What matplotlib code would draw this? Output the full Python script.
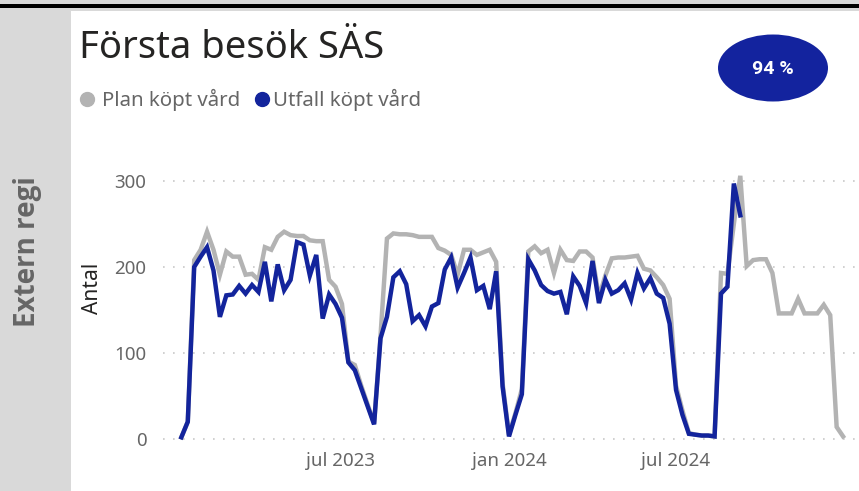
import matplotlib
matplotlib.use('Agg')
import matplotlib.pyplot as plt
import pandas as pd
from matplotlib.lines import Line2D
from matplotlib.patches import Ellipse, Rectangle

# weekly values, first week 2023-01-09
start_week = '2023-01-09'
plan = [2, 20, 208, 220, 241, 220, 191, 218, 212, 212,
        191, 192, 185, 223, 220, 235, 241, 237, 236, 236,
        231, 230, 230, 185, 177, 157, 90, 86, 62, 40,
        18, 120, 233, 239, 238, 238, 237, 235, 235, 235,
        222, 219, 214, 191, 220, 220, 214, 217, 220, 206,
        65, 5, 30, 58, 218, 224, 216, 220, 193, 220,
        208, 207, 218, 218, 211, 165, 190, 210, 211, 211,
        212, 213, 198, 196, 188, 179, 163, 62, 33, 7,
        5, 4, 4, 3, 193, 192, 250, 306, 201, 208,
        209, 209, 193, 146, 146, 146, 163, 146, 146, 146,
        156, 144, 14, 3]
utfall = [2, 20, 200, 212, 223, 196, 142, 167, 168, 178,
          169, 179, 171, 206, 160, 203, 173, 185, 229, 226,
          190, 214, 140, 168, 157, 141, 89, 80, 59, 38,
          17, 117, 142, 188, 195, 180, 137, 144, 131, 154,
          158, 197, 211, 176, 193, 211, 173, 178, 151, 195,
          61, 3, 28, 52, 209, 196, 179, 172, 169, 171,
          145, 189, 178, 158, 207, 158, 185, 169, 173, 181,
          162, 193, 175, 187, 169, 164, 134, 57, 28, 6,
          5, 4, 4, 3, 169, 177, 297, 260]

tick_dates = ['2023-07-01', '2024-01-01', '2024-07-01']
tick_labels = ['jul 2023', 'jan 2024', 'jul 2024']
y_ticks = [0, 100, 200, 300]

title = 'Första besök SÄS'
series_names = ['Plan köpt vård', 'Utfall köpt vård']
kpi_text = '94 %'
side_label = 'Extern regi'

GRAY = '#b3b3b3'
BLUE = '#13249c'
W, H = 859, 491


def fx(px):
    return px / W


def fy(py):
    return 1 - py / H


def main():
    plt.rcParams['font.family'] = ['Noto Sans', 'DejaVu Sans']
    fig = plt.figure(figsize=(W / 100, H / 100), dpi=100)

    # frame pieces around the visual
    fig.add_artist(Rectangle((0, fy(4)), 1, 4 / H, transform=fig.transFigure,
                             color='#d9d9d9', lw=0))
    fig.add_artist(Rectangle((0, fy(8)), 1, 4 / H, transform=fig.transFigure,
                             color='black', lw=0))
    fig.add_artist(Rectangle((0, fy(11)), 1, 3 / H, transform=fig.transFigure,
                             color='#d9d9d9', lw=0))
    fig.add_artist(Rectangle((0, 0), fx(71), fy(11), transform=fig.transFigure,
                             color='#d9d9d9', lw=0))
    fig.text(fx(28), fy(252), side_label, rotation=90, ha='center', va='center',
             fontsize=20, fontweight='bold', color='#666666',
             family=['Open Sans', 'DejaVu Sans'])

    fig.text(fx(79), fy(58), title, fontsize=27.5, color='#252423', va='baseline')

    # legend
    fig.add_artist(Line2D([fx(87)], [fy(99)], marker='o', markersize=10,
                          color=GRAY, transform=fig.transFigure))
    fig.text(fx(102), fy(100), series_names[0], fontsize=14.7, color='#666666',
             va='center')
    fig.add_artist(Line2D([fx(262)], [fy(99)], marker='o', markersize=10,
                          color=BLUE, transform=fig.transFigure))
    fig.text(fx(273), fy(100), series_names[1], fontsize=14.7, color='#666666',
             va='center')

    # KPI badge
    fig.add_artist(Ellipse((fx(773), fy(68)), 110 / W, 67 / H,
                           transform=fig.transFigure, color='#13239e', lw=0))
    fig.text(fx(773), fy(69), kpi_text, fontsize=14, fontweight='bold',
             color='white', ha='center', va='center', family='Roboto')

    ax = fig.add_axes([fx(163), fy(445), (855 - 163) / W, (445 - 150) / H])
    dates = pd.date_range(start_week, periods=len(plan), freq='7D')

    ax.plot(dates, plan, color=GRAY, lw=3.2, solid_joinstyle='miter')
    ax.plot(dates[:len(utfall)], utfall, color=BLUE, lw=3.2, solid_joinstyle='miter')

    ax.set_ylim(-7, 336)
    ax.set_xlim(pd.Timestamp('2022-12-20'), pd.Timestamp('2025-01-12'))
    ax.set_yticks(y_ticks)
    ax.set_xticks(pd.to_datetime(tick_dates))
    ax.set_xticklabels(tick_labels)
    ax.tick_params(length=0, labelsize=13.5, labelcolor='#666666')
    ax.tick_params(axis='y', pad=12)
    ax.tick_params(axis='x', pad=5)
    ax.grid(axis='y', linestyle=(0, (1, 5)), color='#c8c8c8', lw=1.2)
    ax.set_axisbelow(True)
    for spine in ax.spines.values():
        spine.set_visible(False)

    fig.text(fx(92), fy(288), 'Antal', rotation=90, ha='center', va='center',
             fontsize=15, color='#252423')

    fig.savefig('out.png', dpi=100)


if __name__ == '__main__':
    main()
